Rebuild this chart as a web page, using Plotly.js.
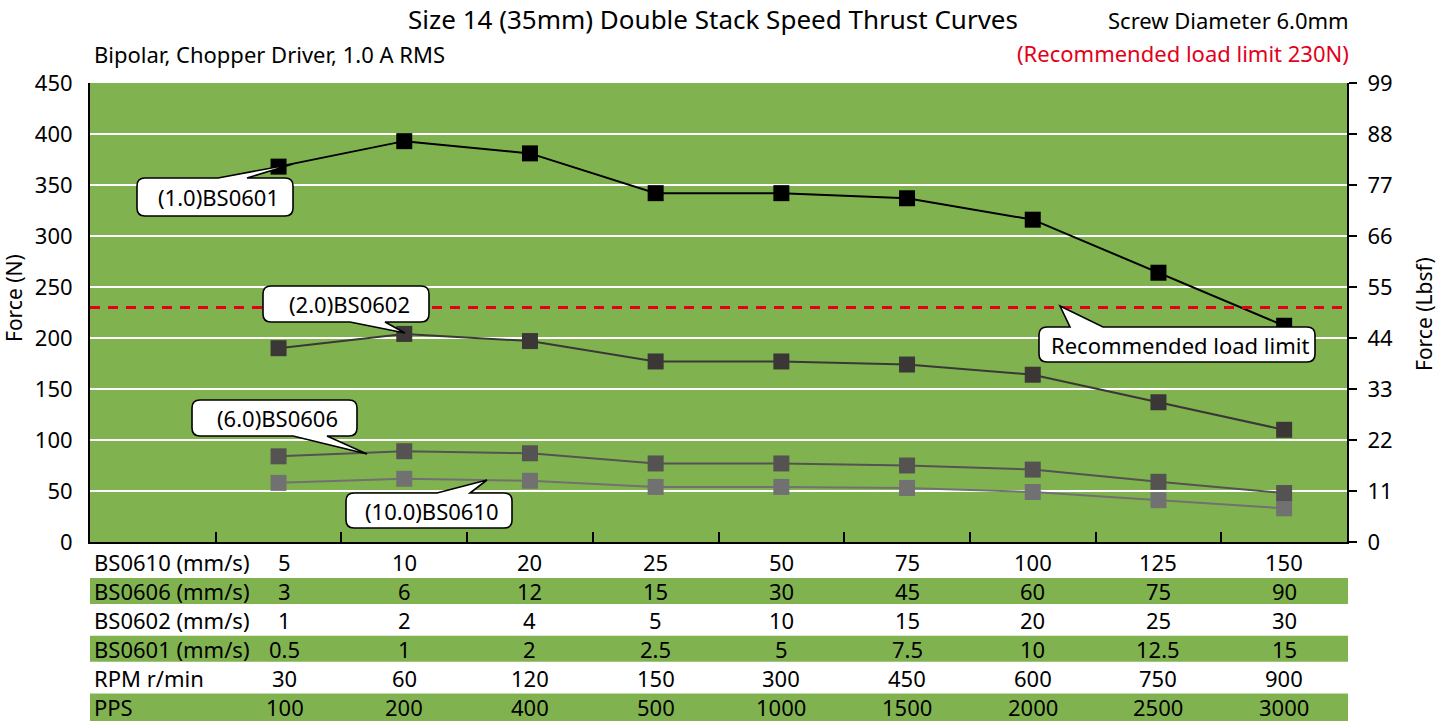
<!DOCTYPE html>
<html>
<head>
<meta charset="utf-8">
<script src="https://cdn.plot.ly/plotly-3.0.1.min.js"></script>
<style>
html,body{margin:0;padding:0;background:#fff;}
#chart{width:1438px;height:721px;}
</style>
</head>
<body>
<div id="chart"></div>
<script>
// ---------- data ----------
const rowLabels = ['BS0610 (mm/s)', 'BS0606 (mm/s)', 'BS0602 (mm/s)', 'BS0601 (mm/s)', 'RPM r/min', 'PPS'];
const speedBS0610 = ['5', '10', '20', '25', '50', '75', '100', '125', '150'];
const speedBS0606 = ['3', '6', '12', '15', '30', '45', '60', '75', '90'];
const speedBS0602 = ['1', '2', '4', '5', '10', '15', '20', '25', '30'];
const speedBS0601 = ['0.5', '1', '2', '2.5', '5', '7.5', '10', '12.5', '15'];
const rpmValues   = ['30', '60', '120', '150', '300', '450', '600', '750', '900'];
const ppsValues   = ['100', '200', '400', '500', '1000', '1500', '2000', '2500', '3000'];

const forceBS0601 = [368, 393, 381, 342, 342, 337, 316, 264, 212];
const forceBS0602 = [190, 204, 197, 177, 177, 174, 164, 137, 110];
const forceBS0606 = [84, 89, 87, 77, 77, 75, 71, 59, 48];
const forceBS0610 = [58, 62, 60, 54, 54, 53, 49, 41, 33];

const loadLimitN = 230;
const leftTicks = [0, 50, 100, 150, 200, 250, 300, 350, 400, 450];
const rightTicks = [0, 11, 22, 33, 44, 55, 66, 77, 88, 99];

// ---------- layout helpers ----------
const W = 1438, H = 721;
const M = {l: 90, r: 91, t: 83, b: 179};
const PW = W - M.l - M.r, PH = H - M.t - M.b;
const px = v => (v - M.l) / PW;          // pixel x -> paper x
const py = v => (H - M.b - v) / PH;      // pixel y -> paper y
const GREEN = '#80b350';
const FONT = 'Noto Sans, Open Sans, DejaVu Sans, sans-serif';
const FS = 22;

const xs = ppsValues.map((_, i) => i + 1);

function series(name, y, color, lw) {
  return {
    type: 'scatter', mode: 'lines+markers', name: name,
    x: xs, y: y, yaxis: 'y',
    line: {color: color, width: lw},
    marker: {symbol: 'square', size: 16, color: color},
    cliponaxis: false, hoverinfo: 'x+y'
  };
}

const traces = [
  series('BS0610', forceBS0610, '#717171', 2),
  series('BS0606', forceBS0606, '#555252', 2),
  series('BS0602', forceBS0602, '#3b3737', 2),
  series('BS0601', forceBS0601, '#000000', 2),
  {type: 'scatter', x: [xs[0]], y: [0], yaxis: 'y2', mode: 'markers',
   marker: {opacity: 0}, hoverinfo: 'skip', showlegend: false}
];

// rounded callout bubble path (pixel coordinates -> paper)
function bubble(x0, y0, x1, y1, tail) {
  const r = 8;
  const P = (x, y) => px(x).toFixed(5) + ',' + py(y).toFixed(5);
  let d = 'M' + P(x0 + r, y0);
  if (tail.side === 'top') {
    d += ' L' + P(tail.a, y0) + ' L' + P(tail.tx, tail.ty) + ' L' + P(tail.b, y0);
  }
  d += ' L' + P(x1 - r, y0) + ' Q' + P(x1, y0) + ' ' + P(x1, y0 + r);
  d += ' L' + P(x1, y1 - r) + ' Q' + P(x1, y1) + ' ' + P(x1 - r, y1);
  if (tail.side === 'bottom') {
    d += ' L' + P(tail.b, y1) + ' L' + P(tail.tx, tail.ty) + ' L' + P(tail.a, y1);
  }
  d += ' L' + P(x0 + r, y1) + ' Q' + P(x0, y1) + ' ' + P(x0, y1 - r);
  d += ' L' + P(x0, y0 + r) + ' Q' + P(x0, y0) + ' ' + P(x0 + r, y0) + ' Z';
  return {type: 'path', xref: 'paper', yref: 'paper', path: d,
          fillcolor: '#ffffff', line: {color: '#000000', width: 1.6}, layer: 'above'};
}

const callouts = [
  {text: '(1.0)BS0601', box: [137, 178, 293, 216], tail: {side: 'top', a: 218, b: 247, tx: 293, ty: 164}},
  {text: '(2.0)BS0602', box: [263, 286, 429, 322], tail: {side: 'bottom', a: 350, b: 385, tx: 405, ty: 333}},
  {text: '(6.0)BS0606', box: [192, 400, 357, 436], tail: {side: 'bottom', a: 293, b: 327, tx: 367, ty: 454}},
  {text: '(10.0)BS0610', box: [346, 493, 512, 528], tail: {side: 'top', a: 437, b: 470, tx: 487, ty: 480}},
  {text: 'Recommended load limit', box: [1039, 327, 1315, 362], tail: {side: 'top', a: 1070, b: 1103, tx: 1060, ty: 306}}
];

const shapes = [];
const annotations = [];

// table green bands
const rowPitch = 28.9, row0 = 562;
rowLabels.forEach((lab, r) => {
  const cy = row0 + r * rowPitch;
  if (r % 2 === 1) {
    const bottom = r === rowLabels.length - 1 ? H : cy + 13;
    shapes.push({type: 'rect', xref: 'paper', yref: 'paper', x0: 0, x1: 1.0008,
      y0: py(bottom), y1: py(cy - 13), fillcolor: GREEN, line: {width: 0}, layer: 'below'});
  }
});

// load limit dashed line
shapes.push({type: 'line', xref: 'paper', yref: 'y', x0: 0, x1: 1, y0: loadLimitN, y1: loadLimitN,
  line: {color: '#e3001b', width: 3, dash: '10px,8px'}, layer: 'above'});

callouts.forEach(c => {
  shapes.push(bubble(c.box[0], c.box[1], c.box[2], c.box[3], c.tail));
  annotations.push({xref: 'paper', yref: 'paper', x: px((c.box[0] + c.box[2]) / 2 + 3), y: py((c.box[1] + c.box[3]) / 2),
    text: c.text, showarrow: false, font: {family: FONT, size: FS, color: '#000'}, xanchor: 'center', yanchor: 'middle'});
});

// table text
const tableRows = [speedBS0610, speedBS0606, speedBS0602, speedBS0601, rpmValues, ppsValues];
tableRows.forEach((vals, r) => {
  const cy = row0 + r * rowPitch;
  annotations.push({xref: 'paper', yref: 'paper', x: px(92), y: py(cy), text: rowLabels[r],
    showarrow: false, xanchor: 'left', yanchor: 'middle', font: {family: FONT, size: FS, color: '#000'}});
  vals.forEach((v, i) => {
    annotations.push({xref: 'x', yref: 'paper', x: xs[i], y: py(cy), text: v,
      xshift: i === 0 ? 6 : 0,
      showarrow: false, xanchor: 'center', yanchor: 'middle', font: {family: FONT, size: FS, color: '#000'}});
  });
});

// titles and notes
annotations.push({xref: 'paper', yref: 'paper', x: px(713), y: py(19), text: 'Size 14 (35mm) Double Stack Speed Thrust Curves',
  showarrow: false, xanchor: 'center', yanchor: 'middle', font: {family: FONT, size: 26, color: '#000'}});
annotations.push({xref: 'paper', yref: 'paper', x: px(1351), y: py(20), text: 'Screw Diameter 6.0mm',
  showarrow: false, xanchor: 'right', yanchor: 'middle', font: {family: FONT, size: FS, color: '#000'}});
annotations.push({xref: 'paper', yref: 'paper', x: px(92), y: py(54), text: 'Bipolar, Chopper Driver, 1.0 A RMS',
  showarrow: false, xanchor: 'left', yanchor: 'middle', font: {family: FONT, size: FS, color: '#000'}});
annotations.push({xref: 'paper', yref: 'paper', x: px(1351), y: py(53), text: '(Recommended load limit 230N)',
  showarrow: false, xanchor: 'right', yanchor: 'middle', font: {family: FONT, size: FS, color: '#e3001b'}});
annotations.push({xref: 'paper', yref: 'paper', x: px(14), y: py(298), text: 'Force (N)', textangle: -90,
  showarrow: false, xanchor: 'center', yanchor: 'middle', font: {family: FONT, size: 21, color: '#000'}});
annotations.push({xref: 'paper', yref: 'paper', x: px(1424), y: py(314), text: 'Force (Lbsf)', textangle: -90,
  showarrow: false, xanchor: 'center', yanchor: 'middle', font: {family: FONT, size: 21, color: '#000'}});

const layout = {
  width: W, height: H,
  margin: M,
  paper_bgcolor: '#ffffff',
  plot_bgcolor: GREEN,
  showlegend: false,
  font: {family: FONT, size: FS, color: '#000'},
  xaxis: {
    range: [-0.5, 9.5], showgrid: false, zeroline: false,
    showline: true, linecolor: '#000', linewidth: 2,
    tickmode: 'array', tickvals: xs.map(v => v - 0.5), ticks: 'inside', ticklen: 10,
    tickcolor: '#000', tickwidth: 2, showticklabels: false, fixedrange: true
  },
  yaxis: {
    range: [0, 450], tickmode: 'array', tickvals: leftTicks,
    showgrid: true, gridcolor: '#ffffff', gridwidth: 2, zeroline: false,
    showline: true, linecolor: '#000', linewidth: 2, ticks: '', ticklabelstandoff: 11,
    tickfont: {family: FONT, size: FS, color: '#000'}, fixedrange: true
  },
  yaxis2: {
    overlaying: 'y', side: 'right', range: [0, 99], tickmode: 'array', tickvals: rightTicks,
    showgrid: false, zeroline: false, showline: true, linecolor: '#000', linewidth: 2,
    ticks: 'outside', ticklen: 8, tickwidth: 2, tickcolor: '#000', ticklabelstandoff: 6,
    tickfont: {family: FONT, size: FS, color: '#000'}, fixedrange: true
  },
  shapes: shapes,
  annotations: annotations
};

Plotly.newPlot('chart', traces, layout, {displayModeBar: false, staticPlot: true});
</script>
</body>
</html>
